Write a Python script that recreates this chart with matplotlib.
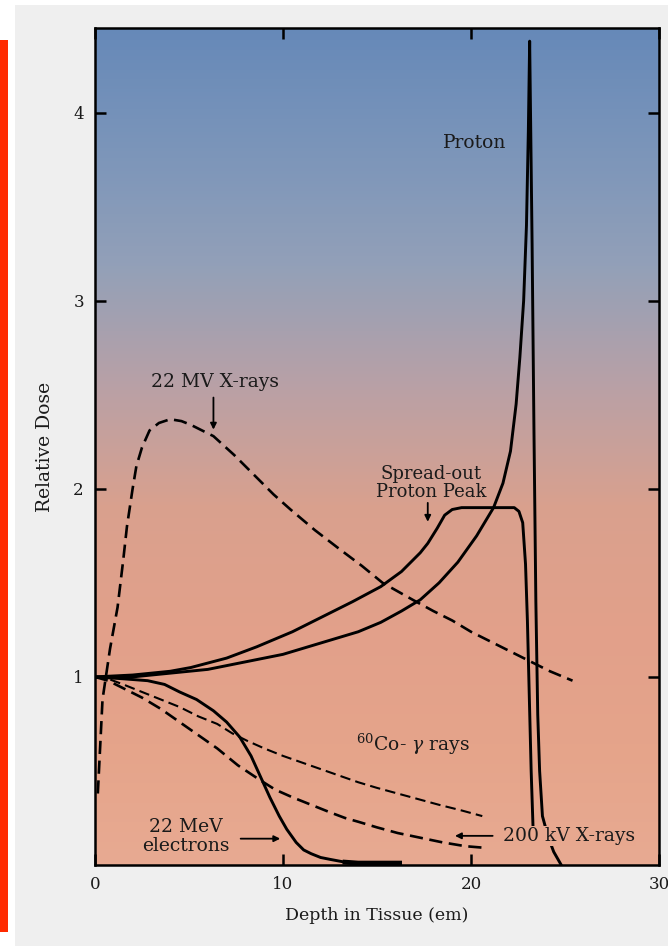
import numpy as np
import matplotlib.pyplot as plt
from matplotlib.colors import LinearSegmentedColormap
from matplotlib.patches import Rectangle

plt.rcParams['font.family'] = ['DejaVu Serif']
plt.rcParams['mathtext.fontset'] = 'dejavuserif'

# depth (cm) / relative dose
proton_x = [0, 2, 4, 6, 8, 10, 12, 14, 15.2, 16.3, 17.3, 18.3, 19.3, 20.3, 21.2, 21.7, 22.1,
            22.4, 22.6, 22.8, 22.95, 23.05, 23.12,
            23.25, 23.35, 23.45, 23.55, 23.65, 23.8, 24.1, 24.4, 24.8]
proton_y = [1.0, 1.0, 1.02, 1.04, 1.08, 1.12, 1.18, 1.24, 1.29, 1.35, 1.41, 1.50, 1.61, 1.75,
            1.90, 2.03, 2.2, 2.45, 2.7, 3.0, 3.4, 3.9, 4.38,
            3.3, 2.3, 1.4, 0.8, 0.5, 0.26, 0.15, 0.07, 0.0]

sobp_x = [0, 2, 4, 5.1, 7, 8.6, 10.5, 12.1, 13.7, 15.2, 16.3, 17.3, 17.7, 18.2, 18.6, 19.0,
          19.5, 21.0, 22.3, 22.55, 22.75, 22.9, 23.0, 23.1, 23.2, 23.3]
sobp_y = [1.0, 1.01, 1.03, 1.05, 1.10, 1.16, 1.24, 1.32, 1.40, 1.48, 1.56, 1.66, 1.71, 1.79,
          1.86, 1.89, 1.90, 1.90, 1.90, 1.88, 1.82, 1.6, 1.3, 0.9, 0.5, 0.2]

mv22_x = [0.15, 0.4, 0.8, 1.2, 1.5, 1.7, 2.0, 2.2, 2.5, 2.9, 3.4, 4.0, 4.6, 5.1, 5.7, 6.3,
          7.4, 8.6, 9.5, 10.4, 11.7, 13.0, 14.2, 15.3, 16.9, 18.0, 19.0, 20.0, 21.0, 22.0,
          23.0, 24.2, 25.4]
mv22_y = [0.38, 0.88, 1.15, 1.37, 1.62, 1.80, 2.0, 2.12, 2.22, 2.31, 2.35, 2.37, 2.36, 2.34,
          2.31, 2.28, 2.18, 2.06, 1.97, 1.89, 1.78, 1.68, 1.59, 1.50, 1.41, 1.35, 1.30, 1.24,
          1.19, 1.14, 1.09, 1.03, 0.98]

co60_x = [0, 0.7, 1.5, 2.5, 3.5, 4.5, 5.5, 6.5, 7.3, 8.1, 9.0, 10.0, 11.0, 12.0, 13.0, 14.0,
          15.0, 16.1, 17.2, 18.3, 19.5, 20.6]
co60_y = [1.0, 0.99, 0.96, 0.92, 0.88, 0.84, 0.79, 0.75, 0.70, 0.66, 0.62, 0.58, 0.545, 0.51,
          0.475, 0.44, 0.41, 0.38, 0.35, 0.32, 0.29, 0.26]

kv200_x = [0, 0.7, 1.5, 2.5, 3.5, 4.5, 5.5, 6.5, 7.6, 8.8, 9.6, 10.5, 11.5, 12.5, 13.3, 14.0,
           15.0, 16.1, 17.3, 18.5, 19.7, 20.9]
kv200_y = [1.0, 0.98, 0.94, 0.89, 0.83, 0.76, 0.69, 0.62, 0.53, 0.45, 0.40, 0.36, 0.32, 0.28,
           0.25, 0.23, 0.20, 0.17, 0.145, 0.12, 0.10, 0.09]

elec_x = [0, 1.5, 2.8, 3.7, 4.5, 5.4, 6.3, 7.0, 7.7, 8.3, 8.8, 9.3, 9.8, 10.2, 10.7, 11.1,
          11.5, 12.0, 12.5, 13.3, 14.0, 16.2]
elec_y = [1.0, 0.99, 0.98, 0.96, 0.92, 0.88, 0.82, 0.76, 0.68, 0.58, 0.47, 0.36, 0.26, 0.19,
          0.12, 0.08, 0.06, 0.04, 0.03, 0.015, 0.01, 0.01]

bg_colors = ['#e8aa92', '#e5a48a', '#e2a08a', '#d9a08e', '#b9a0a6', '#93a0b8', '#7b95ba', '#6689b8']

fig = plt.figure(figsize=(6.68, 9.46), dpi=100)
fig.patch.set_facecolor('white')
fig.patches.append(Rectangle((15 / 668, 0), 1, 1 - 5 / 946, transform=fig.transFigure,
                             facecolor='#efefef', edgecolor='none', zorder=-10))
fig.patches.append(Rectangle((0, 1 - 932 / 946), 8 / 668, (932 - 40) / 946,
                             transform=fig.transFigure, facecolor='#ff2a00',
                             edgecolor='none', zorder=-10))

ax = fig.add_axes([95 / 668, 81 / 946, 564 / 668, 837 / 946])
cmap = LinearSegmentedColormap.from_list('bg', bg_colors)
grad = np.linspace(0, 1, 256).reshape(-1, 1)
ax.imshow(grad, cmap=cmap, origin='lower', aspect='auto', extent=(0, 30, 0, 4.45), zorder=0)

solid = dict(color='black', lw=2.1, zorder=3, solid_joinstyle='round', solid_capstyle='round')
ax.plot(proton_x, proton_y, **solid)
ax.plot(sobp_x, sobp_y, **solid)
ax.plot(elec_x, elec_y, **solid)
ax.plot(elec_x[-3:], elec_y[-3:], color='black', lw=3.5, zorder=3)
ax.plot(mv22_x, mv22_y, color='black', lw=1.9, dashes=(5, 2.5), zorder=3)
ax.plot(co60_x, co60_y, color='black', lw=1.5, dashes=(5, 2.5), zorder=3)
ax.plot(kv200_x, kv200_y, color='black', lw=1.9, dashes=(5, 2.5), zorder=3)

ax.set_xlim(0, 30)
ax.set_ylim(0, 4.45)
ax.set_xticks([0, 10, 20, 30])
ax.set_yticks([1, 2, 3, 4])
ax.tick_params(direction='in', length=8, width=1.8, labelsize=12, top=True, right=True,
               pad=8, labelcolor='#1a1a1a')
for s in ax.spines.values():
    s.set_linewidth(1.8)
ax.set_xlabel('Depth in Tissue (em)', fontsize=12.5, labelpad=10, color='#1a1a1a')
ax.set_ylabel('Relative Dose', fontsize=13.5, labelpad=14, color='#1a1a1a')

txt = dict(fontsize=13.5, color='#1a1a1a', ha='center', va='center', zorder=4)
ax.text(20.2, 3.84, 'Proton', **txt)
ax.text(6.4, 2.57, '22 MV X-rays', **txt)
ax.text(17.9, 2.03, 'Spread-out\nProton Peak', linespacing=1.0, fontsize=13, color='#1a1a1a',
        ha='center', va='center', zorder=4)
ax.text(16.9, 0.64, r'$^{60}$Co- $\gamma$ rays', **txt)
ax.text(4.85, 0.15, '22 MeV\nelectrons', linespacing=1.1, **txt)
ax.text(25.2, 0.155, '200 kV X-rays',
        bbox=dict(facecolor='#e7a88f', edgecolor='none', pad=1), **txt)

arr = dict(arrowstyle='-|>', color='black', lw=1.3, mutation_scale=9)
ax.annotate('', xy=(6.3, 2.30), xytext=(6.3, 2.50), arrowprops=arr, zorder=4)
ax.annotate('', xy=(17.7, 1.81), xytext=(17.7, 1.94), arrowprops=arr, zorder=4)
ax.annotate('', xy=(10.0, 0.14), xytext=(7.6, 0.14), arrowprops=arr, zorder=4)
ax.annotate('', xy=(19.0, 0.155), xytext=(21.3, 0.155), arrowprops=arr, zorder=4)

fig.savefig('out.png', dpi=100)
